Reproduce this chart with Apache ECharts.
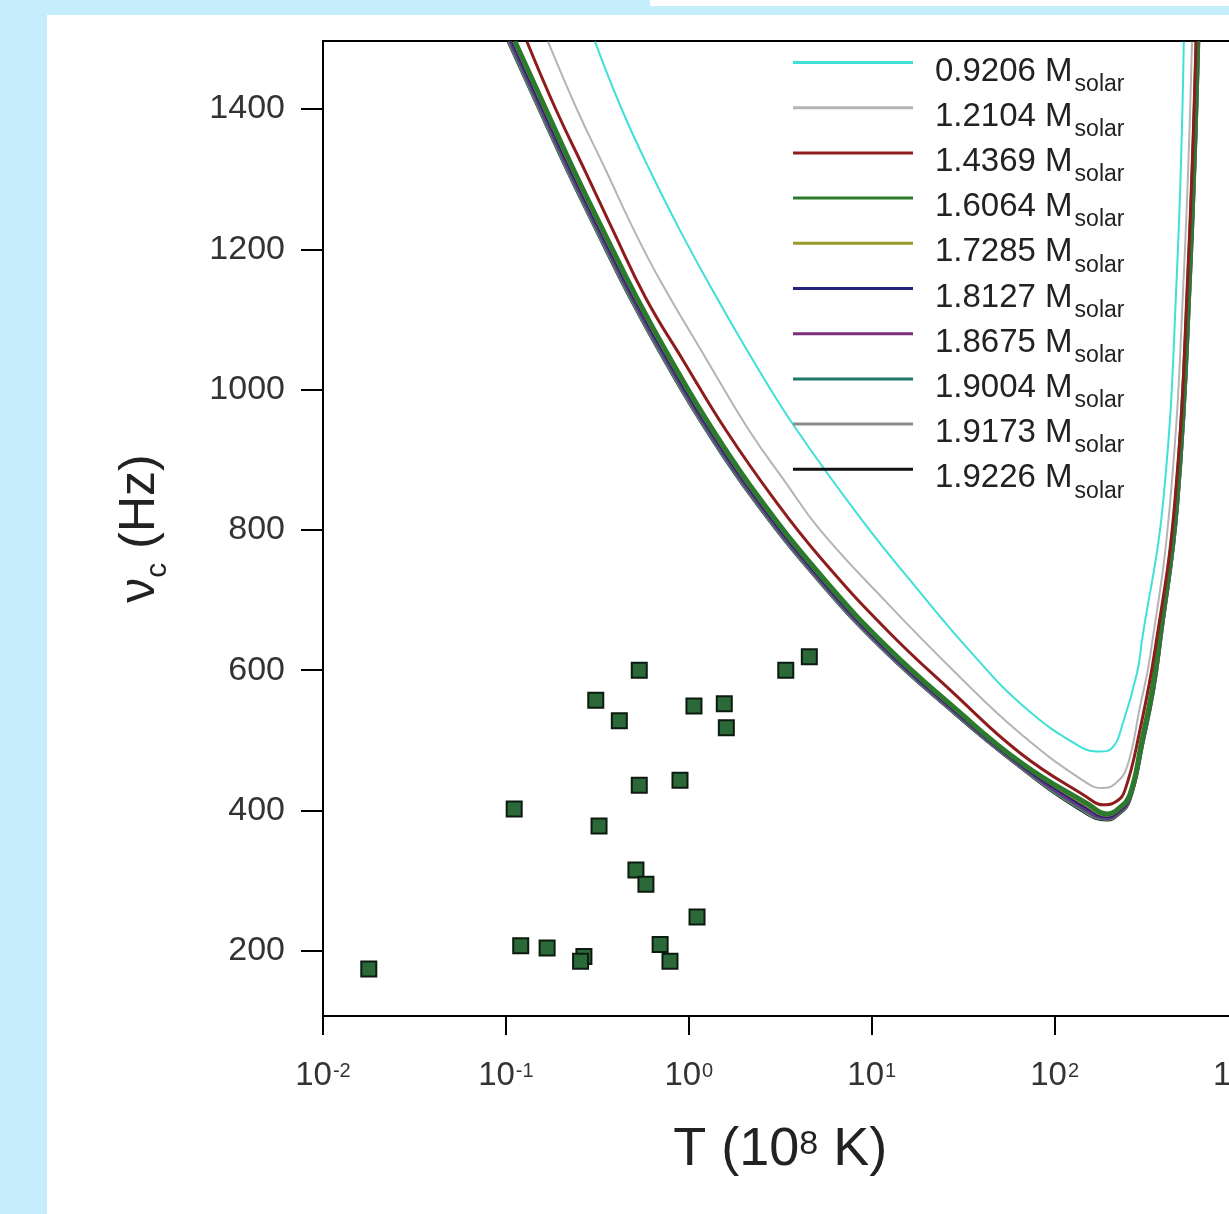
<!DOCTYPE html>
<html>
<head>
<meta charset="utf-8">
<script src="https://cdn.jsdelivr.net/npm/echarts@6/dist/echarts.min.js"></script>
<style>
  html, body { margin: 0; padding: 0; background: #c5edfb; }
  #chart { width: 1229px; height: 1214px; }
</style>
</head>
<body>
<div id="chart"></div>
<script>
// Critical frequency nu_c (Hz) versus temperature T (1e8 K), one curve per stellar mass.
const massLabels = ['0.9206', '1.2104', '1.4369', '1.6064', '1.7285', '1.8127', '1.8675', '1.9004', '1.9173', '1.9226'];

const m09206 = [[0.307,1496],[0.431,1399],[0.614,1312],[0.895,1227],[1.257,1156],[2.244,1042],[3.905,942],[8.85,814],[17.47,718],[35.35,624],[68.03,548],[137.7,491],[177.1,484],[206,489],[236.6,525],[282.2,596],[300.6,643],[391.5,838],[467,1170],[508.6,1496]];
const m12104 = [[0.170,1496],[0.245,1399],[0.353,1312],[0.502,1227],[0.696,1156],[1.257,1042],[2.134,942],[3.315,871],[5.216,800],[12.13,696],[27.83,600],[64.7,510],[150.4,439],[183.9,432],[214,438],[248.8,462],[293,548],[332.4,619],[427.6,838],[509.9,1170],[563.9,1496]];
const m14369 = [[0.1304,1496],[0.1879,1399],[0.2707,1312],[0.3850,1227],[0.5834,1130],[0.9297,1042],[1.597,942],[2.960,842],[5.216,761],[12.13,657],[27.83,568],[64.7,482],[150.4,419],[183.9,408],[215,412],[242.6,429],[293,515],[354,629],[455,842],[536,1170],[593,1496]];
const m16064 = [[0.1123,1496],[0.1659,1399],[0.2360,1312],[0.3400,1227],[0.5218,1130],[0.8005,1042],[1.358,942],[2.485,842],[5.564,728],[12.14,633],[27.87,548],[65.6,468],[152.5,409],[193.4,395],[222,402],[258.2,423],[301,501],[341.5,572],[373,643],[462,838],[544.5,1170],[602,1496]];
const m17285 = [[0.1102,1496],[0.1627,1399],[0.2314,1312],[0.3334,1227],[0.5117,1130],[0.7851,1042],[1.332,942],[2.437,842],[5.457,728],[11.90,633],[27.34,548],[64.4,468],[149.5,407],[193.4,393],[222,400],[258.2,421],[302.5,501],[343.3,572],[375.1,643],[464.7,838],[547.3,1170],[605,1496]];
const m18127 = [[0.1080,1496],[0.1595,1399],[0.2269,1312],[0.3269,1227],[0.5017,1130],[0.7697,1042],[1.306,942],[2.389,842],[5.350,728],[11.67,633],[26.8,548],[63.1,468],[146.6,405],[193.4,391],[222,398],[258.2,419],[304,501],[345,572],[377,643],[467,838],[550,1170],[608,1496]];
const m18675 = [[0.1058,1496],[0.1563,1399],[0.2224,1312],[0.3203,1227],[0.4917,1130],[0.7543,1042],[1.280,942],[2.341,842],[5.243,728],[11.44,633],[26.26,548],[61.8,468],[143.7,403],[193.4,389],[222,396],[258.2,417],[305.5,501],[346.7,572],[378.9,643],[469.3,838],[552.8,1170],[611,1496]];
const m19004 = [[0.1042,1496],[0.1539,1399],[0.2190,1312],[0.3154,1227],[0.4842,1130],[0.7430,1042],[1.260,942],[2.305,842],[5.163,728],[11.26,633],[25.86,548],[60.9,468],[141.5,402],[193.4,388],[222,395],[258.2,416],[307,501],[348.5,572],[380.8,643],[471.7,838],[555.5,1170],[614,1496]];
const m19173 = [[0.1031,1496],[0.1523,1399],[0.2167,1312],[0.3121,1227],[0.4791,1130],[0.7348,1042],[1.247,942],[2.282,842],[5.109,728],[11.14,633],[25.59,548],[60.3,468],[140.0,401],[193.4,387],[222,394],[258.2,415],[307.6,501],[349.1,572],[381.5,643],[472.6,838],[556.6,1170],[615.3,1496]];
const m19226 = [[0.1026,1496],[0.1515,1399],[0.2156,1312],[0.3106,1227],[0.4766,1130],[0.7307,1042],[1.241,942],[2.270,842],[5.083,728],[11.09,633],[25.46,548],[59.9,468],[139.3,400],[193.4,386],[222,393],[258.2,414],[308,501],[349.5,572],[381.9,643],[473.1,838],[557.2,1170],[616,1496]];

// Observed sources
const obsT  = [0.536, 0.310, 0.417, 1.067, 1.563, 1.604, 3.39, 4.56, 0.536, 0.895, 0.111, 0.323, 0.514, 0.583, 1.109, 0.1205, 0.168, 0.267, 0.256, 0.697, 0.789, 0.0178];
const obsNu = [600, 557, 528, 549, 552, 518, 600, 619, 436, 443, 402, 378, 315, 295, 248, 207, 204, 192, 185, 209, 185, 174];

const yTicks = [200, 400, 600, 800, 1000, 1200, 1400];
const xTickExponents = ['-2', '-1', '0', '1', '2', '3'];

const curveData = [m09206, m12104, m14369, m16064, m17285, m18127, m18675, m19004, m19173, m19226];
const curveColors = ['#3fe0d6', '#b4b4b4', '#8e1c1c', '#2c7a2c', '#9a9a2a', '#23237e', '#7d2e7d', '#1f786c', '#8a8a8a', '#111111'];
const curveWidths = [2, 2, 3, 5, 2.5, 2.5, 2.5, 2.5, 2.5, 2.5];
// painting order: outer bundle first, main green band and red on top
const drawOrder = [0, 1, 9, 8, 7, 6, 5, 4, 3, 2];

const series = drawOrder.map(i => ({
  name: massLabels[i],
  type: 'line',
  data: curveData[i],
  symbol: 'none',
  smooth: 0.45,
  clip: true,
  lineStyle: { color: curveColors[i], width: curveWidths[i] },
  itemStyle: { color: curveColors[i] },
  z: 2
}));

series.push({
  type: 'scatter',
  data: obsT.map((t, k) => [t, obsNu[k]]),
  symbol: 'rect',
  symbolSize: 15,
  itemStyle: { color: '#2b6a38', borderColor: '#0d1a0f', borderWidth: 2, opacity: 1 },
  z: 5
});

const chart = echarts.init(document.getElementById('chart'), null, { renderer: 'canvas' });

chart.setOption({
  animation: false,
  backgroundColor: '#c5edfb',
  textStyle: { fontFamily: 'Liberation Sans, Arial, sans-serif' },
  graphic: [
    { type: 'rect', silent: true, z: -10, shape: { x: 47, y: 15, width: 1182, height: 1199 }, style: { fill: '#ffffff' } },
    { type: 'rect', silent: true, z: -10, shape: { x: 650, y: 0, width: 579, height: 6 }, style: { fill: '#ffffff' } }
  ],
  grid: {
    left: 323, top: 41, width: 914.5, height: 975,
    outerBoundsMode: 'none',
    containLabel: false,
    show: true, borderColor: '#000', borderWidth: 2, backgroundColor: '#ffffff'
  },
  legend: {
    data: massLabels,
    orient: 'vertical',
    left: 788, top: 42,
    itemWidth: 120, itemHeight: 14,
    itemGap: -3.8,
    icon: 'path://M0,0L120,0L120,3L0,3Z',
    formatter: name => `{m|${name} M}{s|solar}`,
    textStyle: {
      color: '#222',
      rich: {
        m: { fontSize: 33, lineHeight: 31, padding: [8, 0, 0, 17], verticalAlign: 'top', color: '#222', fontFamily: 'Liberation Sans' },
        s: { fontSize: 23, lineHeight: 22, padding: [26, 0, 0, 2], verticalAlign: 'top', color: '#222', fontFamily: 'Liberation Sans' }
      }
    }
  },
  xAxis: {
    type: 'log',
    logBase: 10,
    min: 0.01,
    max: 1000,
    splitNumber: 5,
    name: '{t|T (10}{p|8}{t| K)}',
    nameLocation: 'middle',
    nameGap: 107,
    nameTextStyle: {
      rich: {
        t: { fontSize: 54, lineHeight: 58, verticalAlign: 'top', color: '#222', fontFamily: 'Liberation Sans' },
        p: { fontSize: 34, lineHeight: 30, padding: [5, 0, 0, 0], verticalAlign: 'top', color: '#222', fontFamily: 'Liberation Sans' }
      }
    },
    axisLine: { show: true, onZero: false, lineStyle: { color: '#000', width: 2 } },
    axisTick: { show: true, length: 19, lineStyle: { color: '#000', width: 2 } },
    minorTick: { show: false },
    splitLine: { show: false },
    axisLabel: {
      margin: 43,
      showMinLabel: true,
      showMaxLabel: true,
      formatter: v => {
        const k = Math.round(Math.log10(v)) + 2;
        return '{b|10}{e|' + xTickExponents[k] + '}';
      },
      rich: {
        b: { fontSize: 33, lineHeight: 34, verticalAlign: 'top', color: '#333', fontFamily: 'Liberation Sans' },
        e: { fontSize: 20, lineHeight: 20, padding: [2, 0, 0, 1], verticalAlign: 'top', color: '#333', fontFamily: 'Liberation Sans' }
      }
    }
  },
  yAxis: {
    type: 'value',
    min: 107,
    max: 1497,
    name: '{n|\u03bd}{c|c}{n| (Hz)}',
    nameLocation: 'middle',
    nameRotate: 90,
    nameGap: 152,
    nameTextStyle: {
      rich: {
        n: { fontSize: 50, lineHeight: 56, verticalAlign: 'top', color: '#222', fontFamily: 'Liberation Sans' },
        c: { fontSize: 30, lineHeight: 30, padding: [28, 0, 0, 0], verticalAlign: 'top', color: '#222', fontFamily: 'Liberation Sans' }
      }
    },
    axisLine: { show: true, lineStyle: { color: '#000', width: 2 } },
    axisTick: { show: true, length: 22, customValues: yTicks, lineStyle: { color: '#000', width: 2 } },
    splitLine: { show: false },
    axisLabel: {
      customValues: yTicks, margin: 38, fontSize: 34, color: '#333', fontFamily: 'Liberation Sans',
      formatter: v => String(v)
    }
  },
  series: series
});
</script>
</body>
</html>
